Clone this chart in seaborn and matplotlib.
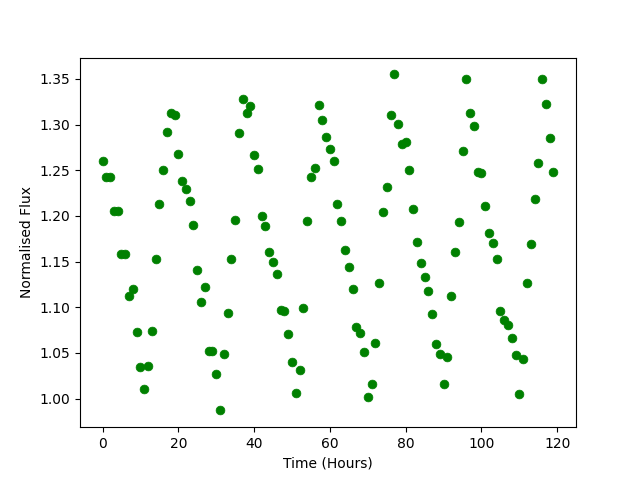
import matplotlib
matplotlib.use("Agg")
import matplotlib.pyplot as plt
import seaborn as sns
import numpy as np
import pandas as pd

time_hours = list(range(120))
flux = [
    1.260, 1.243, 1.243, 1.205, 1.205, 1.158, 1.158, 1.112, 1.120, 1.073,
    1.035, 1.010, 1.036, 1.074, 1.153, 1.213, 1.250, 1.292, 1.313, 1.310,
    1.268, 1.238, 1.230, 1.216, 1.190, 1.141, 1.106, 1.122, 1.052, 1.052,
    1.027, 0.987, 1.049, 1.094, 1.153, 1.196, 1.291, 1.328, 1.313, 1.320,
    1.267, 1.251, 1.200, 1.189, 1.160, 1.149, 1.136, 1.097, 1.096, 1.071,
    1.040, 1.006, 1.031, 1.099, 1.194, 1.243, 1.253, 1.322, 1.305, 1.286,
    1.273, 1.260, 1.213, 1.194, 1.163, 1.144, 1.120, 1.078, 1.072, 1.051,
    1.002, 1.016, 1.061, 1.127, 1.204, 1.232, 1.310, 1.355, 1.301, 1.279,
    1.281, 1.250, 1.208, 1.171, 1.148, 1.133, 1.118, 1.093, 1.060, 1.049,
    1.016, 1.045, 1.112, 1.161, 1.193, 1.271, 1.350, 1.313, 1.299, 1.248,
    1.247, 1.211, 1.181, 1.170, 1.153, 1.096, 1.086, 1.081, 1.066, 1.048,
    1.005, 1.043, 1.127, 1.169, 1.218, 1.258, 1.350, 1.323, 1.285, 1.248,
]

df = pd.DataFrame({"Time (Hours)": time_hours, "Normalised Flux": flux})

fig, ax = plt.subplots(figsize=(6.4, 4.8), dpi=100)
sns.scatterplot(data=df, x="Time (Hours)", y="Normalised Flux", ax=ax,
                color="green", s=40, edgecolor="green", linewidth=0.5)
ax.set_xlabel("Time (Hours)")
ax.set_ylabel("Normalised Flux")
fig.savefig("out.png", dpi=100)
